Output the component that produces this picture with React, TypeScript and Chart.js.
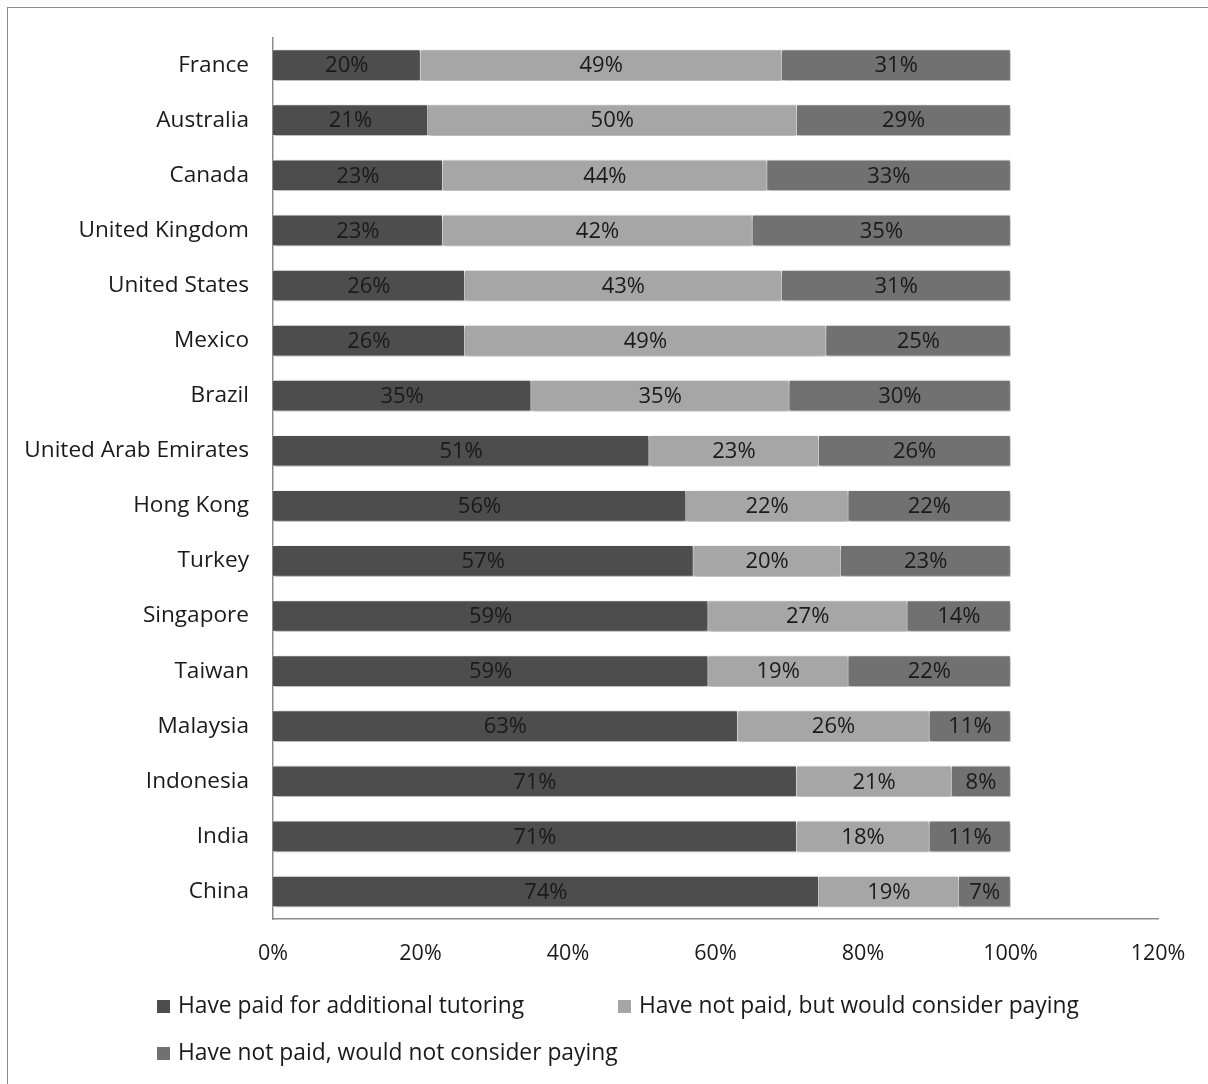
import React, { useEffect, useRef } from "react";
import { Chart, registerables } from "chart.js";

Chart.register(...registerables);

const countries = [
  "France", "Australia", "Canada", "United Kingdom", "United States", "Mexico", "Brazil",
  "United Arab Emirates", "Hong Kong", "Turkey", "Singapore", "Taiwan", "Malaysia",
  "Indonesia", "India", "China",
];
const paid = [20, 21, 23, 23, 26, 26, 35, 51, 56, 57, 59, 59, 63, 71, 71, 74];
const wouldConsider = [49, 50, 44, 42, 43, 49, 35, 23, 22, 20, 27, 19, 26, 21, 18, 19];
const wouldNot = [31, 29, 33, 35, 31, 25, 30, 26, 22, 23, 14, 22, 11, 8, 11, 7];
const seriesNames = [
  "Have paid for additional tutoring",
  "Have not paid, but would consider paying",
  "Have not paid, would not consider paying",
];
const seriesColors = ["#4d4d4d", "#a6a6a6", "#717171"];
const xTicks = [0, 20, 40, 60, 80, 100, 120];

const FONT = "'Open Sans', 'DejaVu Sans', sans-serif";

const framePlugin = {
  id: "frame",
  beforeDraw(chart: any) {
    const ctx = chart.ctx;
    ctx.save();
    ctx.fillStyle = "#ffffff";
    ctx.fillRect(0, 0, chart.width, chart.height);
    ctx.strokeStyle = "#8c8c8c";
    ctx.lineWidth = 1;
    ctx.strokeRect(7.5, 7.5, chart.width + 20, chart.height + 20);
    ctx.restore();
  },
};

const shadowPlugin = {
  id: "barShadow",
  beforeDatasetsDraw(chart: any) {
    const ctx = chart.ctx;
    ctx.save();
    ctx.shadowColor = "rgba(0,0,0,0.35)";
    ctx.shadowBlur = 4;
    ctx.shadowOffsetX = 1;
    ctx.shadowOffsetY = 2;
  },
  afterDatasetsDraw(chart: any) {
    chart.ctx.restore();
  },
};

const labelPlugin = {
  id: "segLabels",
  afterDatasetsDraw(chart: any) {
    const ctx = chart.ctx;
    ctx.save();
    ctx.font = `22px ${FONT}`;
    ctx.fillStyle = "#1a1a1a";
    ctx.textAlign = "center";
    ctx.textBaseline = "middle";
    chart.data.datasets.forEach((ds: any, di: number) => {
      const meta = chart.getDatasetMeta(di);
      meta.data.forEach((bar: any, i: number) => {
        const { x, base, y } = bar.getProps(["x", "base", "y"], true);
        ctx.fillText(`${ds.data[i]}%`, (x + base) / 2, y + 1);
      });
    });
    ctx.restore();
  },
};

const legendPlugin = {
  id: "customLegend",
  afterDraw(chart: any) {
    const ctx = chart.ctx;
    const pos = [
      [157, 1006],
      [618, 1006],
      [157, 1053],
    ];
    ctx.save();
    ctx.font = `22.8px ${FONT}`;
    ctx.textBaseline = "middle";
    ctx.textAlign = "left";
    chart.data.datasets.forEach((ds: any, i: number) => {
      const [x, y] = pos[i];
      ctx.fillStyle = ds.backgroundColor;
      ctx.fillRect(x, y - 6, 13, 13);
      ctx.fillStyle = "#1a1a1a";
      ctx.fillText(ds.label, x + 21, y + 1);
    });
    ctx.restore();
  },
};

export default function App() {
  const ref = useRef<HTMLCanvasElement>(null);
  useEffect(() => {
    if (!ref.current) return;
    const chart = new Chart(ref.current, {
      type: "bar",
      data: {
        labels: countries,
        datasets: [paid, wouldConsider, wouldNot].map((d, i) => ({
          label: seriesNames[i],
          data: d,
          backgroundColor: seriesColors[i],
          borderColor: "#ffffff",
          borderWidth: 1,
          barThickness: 31,
        })),
      },
      options: {
        indexAxis: "y",
        animation: false,
        responsive: false,
        maintainAspectRatio: false,
        layout: { padding: { top: 37, right: 50, bottom: 105, left: 0 } },
        plugins: {
          legend: { display: false },
          tooltip: { enabled: false },
        },
        scales: {
          x: {
            stacked: true,
            min: 0,
            max: 120,
            afterBuildTicks: (s: any) => {
              s.ticks = xTicks.map((v) => ({ value: v }));
            },
            afterFit: (s: any) => {
              s.height = 60;
            },
            grid: { display: false, drawTicks: false },
            border: { display: true, color: "#8c8c8c", width: 1.5 },
            ticks: {
              padding: 22,
              color: "#1a1a1a",
              font: { family: FONT, size: 21.5 },
              callback: (v: any) => `${v}%`,
            },
          },
          y: {
            stacked: true,
            afterFit: (s: any) => {
              s.width = 273;
            },
            grid: { display: false, drawTicks: false },
            border: { display: true, color: "#8c8c8c", width: 1.5 },
            ticks: {
              padding: 24,
              color: "#1a1a1a",
              font: { family: FONT, size: 22.6 },
            },
          },
        },
      },
      plugins: [framePlugin, shadowPlugin, labelPlugin, legendPlugin],
    } as any);
    return () => chart.destroy();
  }, []);
  return (
    <div style={{ position: "absolute", left: 0, top: 0, width: 1208, height: 1084 }}>
      <canvas ref={ref} width={1208} height={1084} style={{ width: 1208, height: 1084 }} />
    </div>
  );
}
